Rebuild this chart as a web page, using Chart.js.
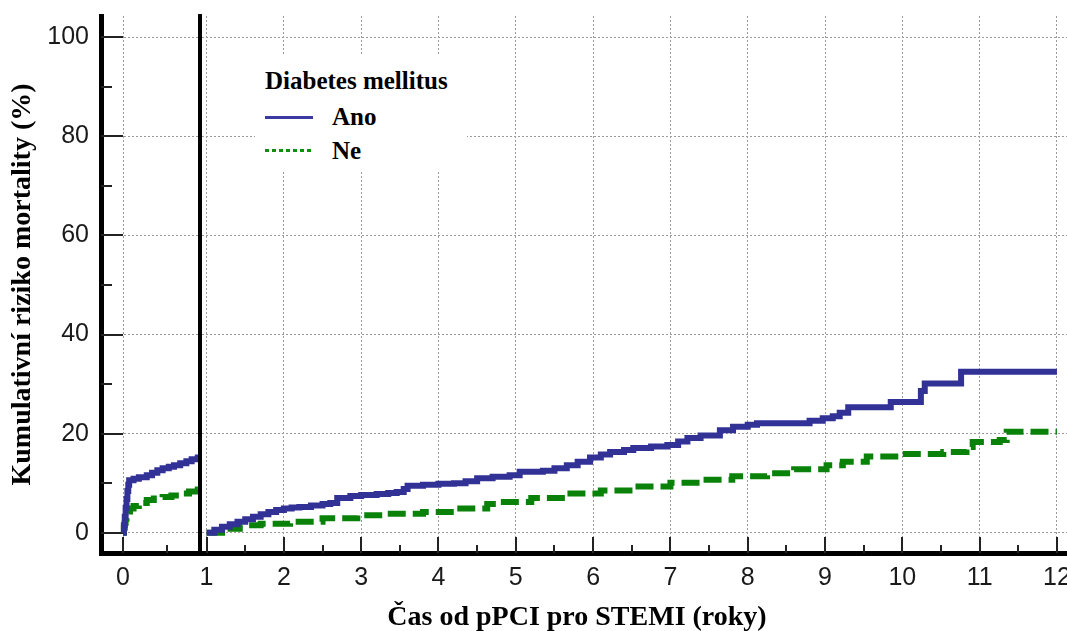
<!DOCTYPE html>
<html>
<head>
<meta charset="utf-8">
<script src="https://cdn.jsdelivr.net/npm/chart.js@4.4.0/dist/chart.umd.min.js"></script>
<style>
  body { margin: 0; background: #fff; }
  #wrap { position: relative; width: 1067px; height: 631px; overflow: hidden; background: #fff; }
  canvas { position: absolute; top: 0; }
  #early { left: 0; }
  #late { left: 190px; }
  #legend-box { position: absolute; left: 255px; top: 56px; width: 212px; height: 116px; background: #fff; }
  .serif {
    position: absolute;
    font-family: 'Liberation Serif', 'Times New Roman', serif;
    font-weight: bold;
    color: #000;
    white-space: nowrap;
    line-height: 1;
  }
  #legend-title { left: 265px; top: 68px; font-size: 25px; }
  .legend-label { left: 332px; font-size: 25px; }
  .legend-line { position: absolute; left: 265px; width: 48px; height: 3px; }
  #line-ano { top: 116px; background: #3a3aa2; }
  #line-ne { top: 149px; background: repeating-linear-gradient(90deg, #0f8f0f 0 4px, transparent 4px 7px); }
  #x-title { left: 100px; width: 954px; top: 602px; text-align: center; font-size: 28px; }
</style>
</head>
<body>
<div id="wrap">
  <canvas id="early" width="200" height="631"></canvas>
  <canvas id="late" width="877" height="631"></canvas>
  <div id="legend-box"></div>
  <div class="serif" id="legend-title">Diabetes mellitus</div>
  <div class="legend-line" id="line-ano"></div>
  <div class="serif legend-label" style="top:104px">Ano</div>
  <div class="legend-line" id="line-ne"></div>
  <div class="serif legend-label" style="top:138px">Ne</div>
  <div class="serif" id="x-title">Čas od pPCI pro STEMI (roky)</div>
</div>
<script>
// axis ticks
const yTickValues = [0, 10, 20, 30, 40, 50, 60, 70, 80, 90, 100];
const yLabelValues = [0, 20, 40, 60, 80, 100];
const earlyTickValues = [0, 0.5];
const earlyLabelValues = [0];
const lateTickValues = [1, 1.5, 2, 2.5, 3, 3.5, 4, 4.5, 5, 5.5, 6, 6.5, 7, 7.5, 8, 8.5, 9, 9.5, 10, 10.5, 11, 11.5, 12];
const lateLabelValues = [1, 2, 3, 4, 5, 6, 7, 8, 9, 10, 11, 12];

// first year after pPCI (roky, %)
const anoEarlyTime = [0, 0.01, 0.02, 0.03, 0.04, 0.05, 0.06, 0.07, 0.12, 0.18, 0.27, 0.33, 0.39, 0.45, 0.52, 0.58, 0.65, 0.72, 0.78, 0.85, 0.875];
const anoEarlyRisk = [0, 1.5, 3.2, 5, 6.8, 8.4, 9.7, 10.6, 10.9, 11.2, 11.6, 12.1, 12.6, 13.0, 13.3, 13.6, 14.0, 14.4, 14.8, 15.2, 15.4];
const neEarlyTime = [0, 0.01, 0.02, 0.03, 0.04, 0.06, 0.08, 0.12, 0.18, 0.27, 0.35, 0.45, 0.55, 0.65, 0.75, 0.85, 0.875];
const neEarlyRisk = [0, 1.0, 2.0, 2.8, 3.5, 4.3, 4.9, 5.4, 6.0, 6.6, 6.9, 7.2, 7.5, 7.9, 8.3, 8.7, 8.8];

// from year 1 onwards (roky, %)
const anoLateTime = [1, 1.1, 1.2, 1.3, 1.4, 1.5, 1.6, 1.7, 1.8, 1.9, 2.0, 2.1, 2.2, 2.35, 2.5, 2.6, 2.69, 2.86, 3.0, 3.2, 3.35, 3.46, 3.55, 3.6, 3.8, 4.0, 4.2, 4.35, 4.5, 4.7, 4.92, 5.05, 5.35, 5.5, 5.66, 5.8, 5.96, 6.1, 6.22, 6.4, 6.52, 6.75, 6.96, 7.1, 7.22, 7.39, 7.64, 7.81, 8.0, 8.12, 8.8, 8.97, 9.1, 9.19, 9.3, 9.85, 10.24, 10.29, 10.76, 12];
const anoLateRisk = [0, 0.6, 1.2, 1.7, 2.2, 2.7, 3.2, 3.7, 4.2, 4.6, 4.9, 5.1, 5.2, 5.5, 5.8, 6.0, 7.0, 7.4, 7.6, 7.8, 8.0, 8.2, 8.8, 9.5, 9.7, 9.9, 10.0, 10.4, 11.0, 11.3, 11.6, 12.3, 12.5, 13.0, 13.6, 14.3, 15.2, 15.8, 16.3, 16.7, 17.1, 17.4, 17.7, 18.4, 19.1, 19.6, 20.7, 21.4, 21.8, 22.1, 22.6, 23.1, 23.5, 24.2, 25.3, 26.4, 28.6, 30.1, 32.5, 32.5];
const neLateTime = [1, 1.2, 1.43, 1.7, 2.08, 2.5, 2.95, 3.3, 3.8, 4.2, 4.63, 4.8, 5.2, 5.66, 6.1, 6.52, 7.0, 7.39, 7.8, 8.25, 8.6, 9.02, 9.23, 9.54, 9.97, 10.53, 10.83, 10.91, 11.26, 11.35, 12];
const neLateRisk = [0, 0.8, 1.5, 1.8, 2.2, 2.9, 3.5, 3.8, 4.2, 4.9, 5.8, 6.2, 7.0, 7.9, 8.5, 9.3, 10.1, 10.7, 11.4, 12.0, 12.8, 13.6, 14.3, 15.4, 15.9, 16.3, 17.3, 18.3, 18.7, 20.4, 20.4];

const toPoints = (xs, ys) => xs.map((x, i) => ({ x: x, y: ys[i] }));

const BLUE = '#323296';
const GREEN = '#0a820a';
const GRID = '#9a9a9a';
const sansFont = { family: "'Liberation Sans', Arial, sans-serif", size: 25 };

// ticks drawn into the plot area instead of outside
const inwardTicks = {
  id: 'inwardTicks',
  beforeDatasetsDraw(chart, args, opts) {
    const { ctx, chartArea, scales } = chart;
    ctx.save();
    ctx.strokeStyle = '#222';
    ctx.lineWidth = 2;
    ctx.beginPath();
    if (opts.x) {
      opts.x.ticks.forEach(v => {
        const px = Math.round(scales.x.getPixelForValue(v));
        const len = opts.x.major.includes(v) ? 16 : 8;
        ctx.moveTo(px, chartArea.bottom);
        ctx.lineTo(px, chartArea.bottom - len);
      });
    }
    if (opts.y) {
      opts.y.ticks.forEach(v => {
        const py = Math.round(scales.y.getPixelForValue(v));
        const len = opts.y.major.includes(v) ? 22 : 11;
        ctx.moveTo(chartArea.left, py);
        ctx.lineTo(chartArea.left + len, py);
      });
    }
    ctx.stroke();
    ctx.restore();
  }
};

function fixSize(prop, size) {
  return scale => {
    scale[prop] = size;
    scale.paddingLeft = 0;
    scale.paddingRight = 0;
    scale.paddingTop = 0;
    scale.paddingBottom = 0;
  };
}

function lineSets(anoT, anoR, neT, neR) {
  return [
    {
      label: 'Ano',
      data: toPoints(anoT, anoR),
      borderColor: BLUE,
      borderWidth: 6,
      stepped: true,
      pointRadius: 0,
      fill: false
    },
    {
      label: 'Ne',
      data: toPoints(neT, neR),
      borderColor: GREEN,
      borderWidth: 6,
      borderDash: [18, 7],
      stepped: true,
      pointRadius: 0,
      fill: false
    }
  ];
}

const yRange = { min: -4.1, max: 104.3 };

// panel 0 - 1 year
new Chart(document.getElementById('early'), {
  type: 'line',
  data: { datasets: lineSets(anoEarlyTime, anoEarlyRisk, neEarlyTime, neEarlyRisk) },
  options: {
    responsive: false,
    animation: false,
    layout: { padding: { top: 16, right: 0, bottom: 0, left: 0 }, autoPadding: false },
    plugins: {
      legend: { display: false },
      tooltip: { enabled: false },
      inwardTicks: {
        x: { ticks: earlyTickValues, major: earlyLabelValues },
        y: { ticks: yTickValues, major: yLabelValues }
      }
    },
    scales: {
      x: {
        type: 'linear',
        min: -0.25,
        max: 0.875,
        afterBuildTicks: s => { s.ticks = earlyTickValues.map(v => ({ value: v })); },
        afterFit: fixSize('height', 78),
        ticks: {
          autoSkip: false,
          maxRotation: 0,
          padding: 10,
          color: '#1a1a1a',
          font: sansFont,
          callback: v => earlyLabelValues.includes(v) ? String(v) : ''
        },
        grid: {
          drawTicks: false,
          lineWidth: 1,
          color: c => c.tick && earlyLabelValues.includes(c.tick.value) ? GRID : 'rgba(0,0,0,0)'
        },
        border: { display: true, width: 5, color: '#000', dash: [2, 2] }
      },
      y: {
        type: 'linear',
        min: yRange.min,
        max: yRange.max,
        afterBuildTicks: s => { s.ticks = yTickValues.map(v => ({ value: v })); },
        afterFit: fixSize('width', 101),
        ticks: {
          padding: 12,
          color: '#1a1a1a',
          font: sansFont,
          callback: v => yLabelValues.includes(v) ? String(v) : ''
        },
        grid: {
          drawTicks: false,
          lineWidth: 1,
          color: c => c.tick && yLabelValues.includes(c.tick.value) ? GRID : 'rgba(0,0,0,0)'
        },
        border: { display: true, width: 5, color: '#000', dash: [2, 2] },
        title: {
          display: true,
          text: 'Kumulativní riziko mortality (%)',
          color: '#000',
          padding: { top: 6, bottom: 0 },
          font: { family: "'Liberation Serif', 'Times New Roman', serif", size: 28, weight: 'bold' }
        }
      }
    }
  },
  plugins: [inwardTicks]
});

// panel 1 - 12 years
new Chart(document.getElementById('late'), {
  type: 'line',
  data: { datasets: lineSets(anoLateTime, anoLateRisk, neLateTime, neLateRisk) },
  options: {
    responsive: false,
    animation: false,
    layout: { padding: { top: 16, right: 0, bottom: 0, left: 0 }, autoPadding: false },
    plugins: {
      legend: { display: false },
      tooltip: { enabled: false },
      inwardTicks: {
        x: { ticks: lateTickValues, major: lateLabelValues }
      }
    },
    scales: {
      x: {
        type: 'linear',
        min: 0.915,
        max: 12.13,
        afterBuildTicks: s => { s.ticks = lateTickValues.map(v => ({ value: v })); },
        afterFit: fixSize('height', 78),
        ticks: {
          autoSkip: false,
          maxRotation: 0,
          padding: 10,
          color: '#1a1a1a',
          font: sansFont,
          callback: v => lateLabelValues.includes(v) ? String(v) : ''
        },
        grid: {
          drawTicks: false,
          lineWidth: 1,
          color: c => c.tick && lateLabelValues.includes(c.tick.value) ? GRID : 'rgba(0,0,0,0)'
        },
        border: { display: true, width: 5, color: '#000', dash: [2, 2] }
      },
      y: {
        type: 'linear',
        min: yRange.min,
        max: yRange.max,
        afterBuildTicks: s => { s.ticks = yTickValues.map(v => ({ value: v })); },
        afterFit: fixSize('width', 10),
        ticks: { display: false },
        grid: {
          drawTicks: false,
          lineWidth: 1,
          color: c => c.tick && yLabelValues.includes(c.tick.value) ? GRID : 'rgba(0,0,0,0)'
        },
        border: { display: true, width: 4, color: '#000', dash: [2, 2] }
      }
    }
  },
  plugins: [inwardTicks]
});
</script>
</body>
</html>
